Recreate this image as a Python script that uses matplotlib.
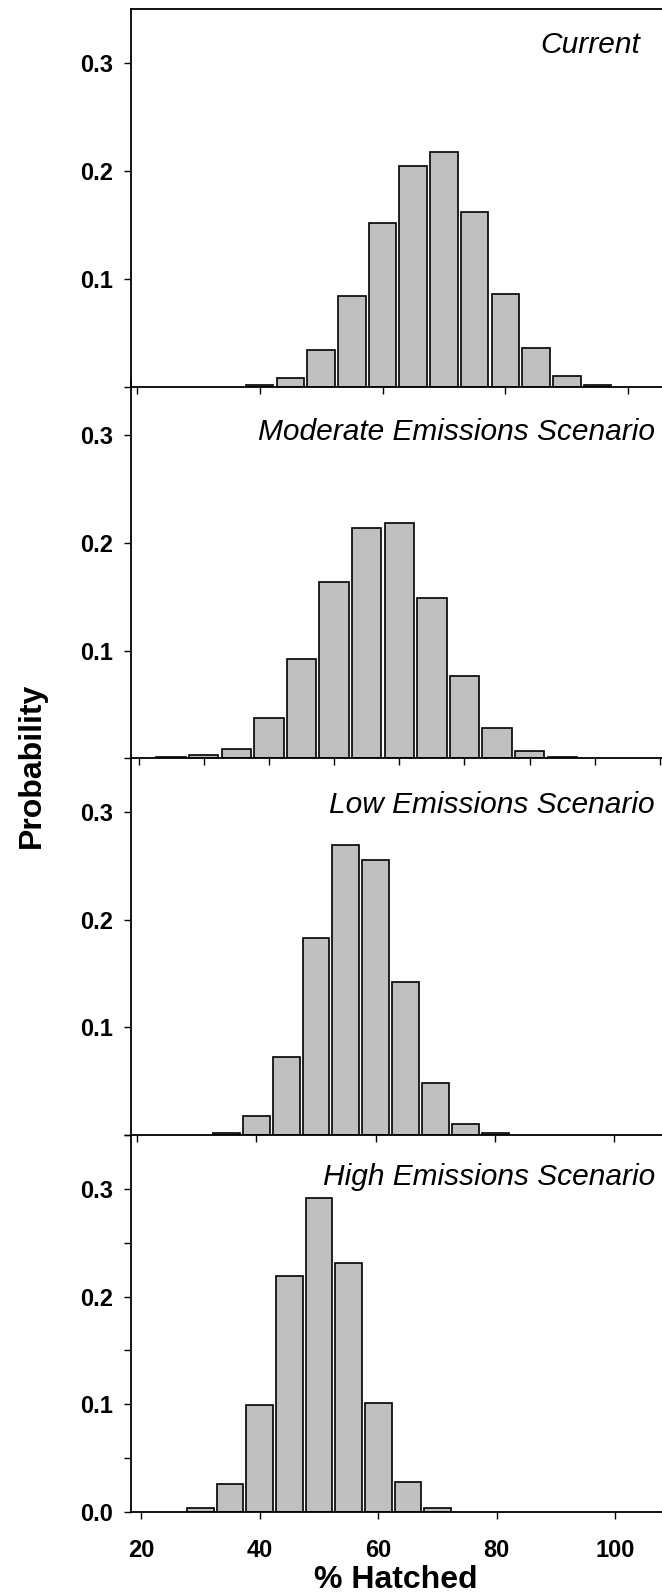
import matplotlib
matplotlib.use("Agg")
import matplotlib.pyplot as plt
from matplotlib.ticker import MultipleLocator

plt.rcParams["font.family"] = ["Liberation Sans", "DejaVu Sans"]
plt.rcParams["font.weight"] = "bold"

# bin centres (% hatched) and probability of each bin, per scenario
current_bins = [40, 45, 50, 55, 60, 65, 70, 75, 80, 85, 90, 95]
current_prob = [0.002, 0.008, 0.034, 0.084, 0.152, 0.205, 0.218, 0.162,
                0.086, 0.036, 0.010, 0.002]

moderate_bins = [25, 30, 35, 40, 45, 50, 55, 60, 65, 70, 75, 80, 85]
moderate_prob = [0.001, 0.003, 0.009, 0.037, 0.092, 0.164, 0.214, 0.218,
                 0.149, 0.076, 0.028, 0.0065, 0.0015]

low_bins = [35, 40, 45, 50, 55, 60, 65, 70, 75, 80]
low_prob = [0.002, 0.0175, 0.072, 0.183, 0.269, 0.255, 0.142, 0.048,
            0.010, 0.0015]

high_bins = [30, 35, 40, 45, 50, 55, 60, 65, 70]
high_prob = [0.004, 0.026, 0.099, 0.219, 0.291, 0.231, 0.101, 0.028, 0.004]

titles = ["Current", "Moderate Emissions Scenario",
          "Low Emissions Scenario", "High Emissions Scenario"]

W, H = 662, 1596
fig = plt.figure(figsize=(W / 100, H / 100), dpi=100)

# panel layout in pixels: (top, bottom), x-range, x tick step, title spot
panels = [
    dict(bins=current_bins, prob=current_prob, top=9.3, bottom=386.7,
         xlim=(18.97, 105.5), step=20, tx=0.9586, ty=0.3096),
    dict(bins=moderate_bins, prob=moderate_prob, top=381.2, bottom=758.3,
         xlim=(18.77, 100.3), step=10, tx=0.9868, ty=0.2955),
    dict(bins=low_bins, prob=low_prob, top=758.2, bottom=1134.8,
         xlim=(18.93, 107.96), step=20, tx=0.9868, ty=0.2993),
    dict(bins=high_bins, prob=high_prob, top=1134.9, bottom=1512.0,
         xlim=(18.19, 107.9), step=20, tx=0.9868, ty=0.3036),
]

left = 130.5
for i, (p, title) in enumerate(zip(panels, titles)):
    last = i == len(panels) - 1
    ax = fig.add_axes([left / W, 1 - p["bottom"] / H,
                       1 - left / W, (p["bottom"] - p["top"]) / H])
    ax.set_facecolor("none")
    ax.bar(p["bins"], p["prob"], width=4.5, color="#c0c0c0",
           edgecolor="black", linewidth=1.2)
    ax.set_xlim(*p["xlim"])
    ax.set_ylim(0, 0.35)

    for side in ["top", "bottom", "left", "right"]:
        ax.spines[side].set_linewidth(1.3)
    ax.spines["right"].set_visible(False)
    if i > 0:
        ax.spines["top"].set_visible(False)

    ax.xaxis.set_major_locator(MultipleLocator(p["step"]))
    ax.set_yticks([0, 0.1, 0.2, 0.3])
    if last:
        ax.set_yticklabels(["0.0", "0.1", "0.2", "0.3"])
        ax.yaxis.set_minor_locator(MultipleLocator(0.05))
        ax.set_xlabel("% Hatched", fontsize=23, fontweight="bold",
                      labelpad=2)
    else:
        ax.set_yticklabels(["", "0.1", "0.2", "0.3"])
        ax.tick_params(axis="x", labelbottom=False)

    ax.tick_params(which="both", direction="out", length=5.3, width=1.0,
                   labelsize=17)
    ax.tick_params(axis="y", pad=7.5)
    ax.tick_params(axis="x", pad=14)

    ax.text(p["tx"], p["ty"], title, transform=ax.get_yaxis_transform(),
            ha="right", va="baseline", fontsize=21.5, style="italic",
            fontweight="normal")

fig.text(32 / W, 1 - 765 / H, "Probability", rotation=90, fontsize=23,
         fontweight="bold", ha="center", va="center")

fig.savefig("out.png", dpi=100)
